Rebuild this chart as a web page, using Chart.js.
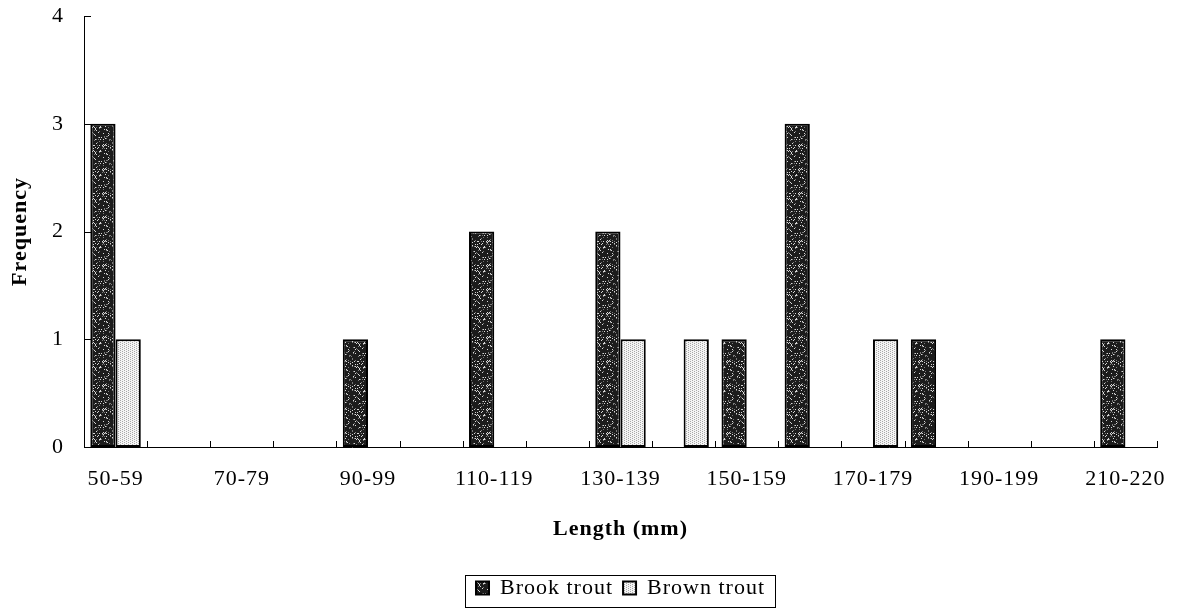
<!DOCTYPE html>
<html>
<head>
<meta charset="utf-8">
<script src="https://cdn.jsdelivr.net/npm/chart.js@4/dist/chart.umd.min.js"></script>
<style>
  html, body { margin: 0; padding: 0; background: #fff; }
  #wrap { width: 1179px; height: 615px; }
</style>
</head>
<body>
<div id="wrap"><canvas id="chart" width="1179" height="615"></canvas></div>
<script>
// Length classes (mm)
const lengthClasses = ["50-59", "60-69", "70-79", "80-89", "90-99", "100-109", "110-119",
  "120-129", "130-139", "140-149", "150-159", "160-169", "170-179", "180-189",
  "190-199", "200-209", "210-220"];
const brookTrout = [3, 0, 0, 0, 1, 0, 2, 0, 2, 0, 1, 3, 0, 1, 0, 0, 1];
const brownTrout = [1, 0, 0, 0, 0, 0, 0, 0, 1, 1, 0, 0, 1, 0, 0, 0, 0];
const yTicks = [0, 1, 2, 3, 4];

const serif = "'Liberation Serif', 'Times New Roman', serif";

// speckled fills like the scanned print
function makePattern(dark) {
  const c = document.createElement("canvas");
  c.width = 24; c.height = 24;
  const g = c.getContext("2d");
  g.fillStyle = dark ? "#1c1c1c" : "#f4f4f4";
  g.fillRect(0, 0, 24, 24);
  for (let y = 0; y < 24; y++) {
    for (let x = 0; x < 24; x++) {
      const h = ((x * 73 + y * 151) ^ (x * y * 17 + 5)) % 11;
      if (dark) {
        if (h === 0 || h === 4) { g.fillStyle = h === 0 ? "#d8d8d8" : "#7a7a7a"; g.fillRect(x, y, 1, 1); }
      } else {
        if (x % 2 === 0 && (y + (x % 4 === 0 ? 0 : 1)) % 2 === 0) { g.fillStyle = "#a8a8a8"; g.fillRect(x, y, 1, 1); }
      }
    }
  }
  return g.createPattern(c, "repeat");
}

// inner tick marks + legend frame
const decorPlugin = {
  id: "decor",
  beforeUpdate(chart) { chart.ctx.letterSpacing = "1px"; },
  beforeDraw(chart) { chart.ctx.letterSpacing = "1px"; },
  afterDraw(chart) {
    const ctx = chart.ctx;
    const x = chart.scales.x, y = chart.scales.y;
    const area = chart.chartArea;
    ctx.save();
    ctx.strokeStyle = "#000";
    ctx.lineWidth = 1;
    ctx.beginPath();
    yTicks.forEach(v => {
      const py = Math.round(y.getPixelForValue(v)) + 0.5;
      ctx.moveTo(area.left, py);
      ctx.lineTo(area.left + 7, py);
    });
    const n = lengthClasses.length;
    for (let i = 1; i <= n; i++) {
      let px;
      if (i === n) px = area.right;
      else px = (x.getPixelForValue(i - 1) + x.getPixelForValue(i)) / 2;
      px = Math.round(px) + 0.5;
      ctx.moveTo(px, area.bottom);
      ctx.lineTo(px, area.bottom - 6);
    }
    ctx.stroke();

    const hb = chart.legend.legendHitBoxes;
    if (hb && hb.length) {
      const first = hb[0], last = hb[hb.length - 1];
      const l = first.left - 11, r = last.left + last.width + 10;
      const t = first.top - 2, b = first.top + first.height + 8;
      ctx.strokeRect(Math.round(l) + 0.5, Math.round(t) + 0.5, Math.round(r - l), Math.round(b - t));
    }
    ctx.restore();
  }
};

const ctx = document.getElementById("chart").getContext("2d");

new Chart(ctx, {
  type: "bar",
  data: {
    labels: lengthClasses,
    datasets: [
      {
        label: "Brook trout",
        data: brookTrout,
        backgroundColor: makePattern(true),
        borderColor: "#000",
        borderWidth: 2,
        borderSkipped: false
      },
      {
        label: "Brown trout",
        data: brownTrout,
        backgroundColor: makePattern(false),
        borderColor: "#000",
        borderWidth: 2,
        borderSkipped: false
      }
    ]
  },
  options: {
    responsive: false,
    animation: false,
    devicePixelRatio: 1,
    layout: { padding: { left: 0, right: 22, top: 16, bottom: 6 } },
    datasets: { bar: { categoryPercentage: 0.8, barPercentage: 1.0 } },
    plugins: {
      tooltip: { enabled: false },
      legend: {
        position: "bottom",
        fullSize: false,
        labels: {
          color: "#000",
          font: { family: serif, size: 22 },
          boxWidth: 13,
          boxHeight: 13,
          padding: 10
        }
      }
    },
    scales: {
      x: {
        grid: { display: false, drawTicks: false },
        border: { display: true, color: "#000", width: 1 },
        ticks: {
          color: "#000",
          font: { family: serif, size: 22 },
          autoSkip: false,
          maxRotation: 0,
          padding: 19,
          callback: function (value, index) {
            return index % 2 === 0 ? this.getLabelForValue(value) : "";
          }
        },
        title: {
          display: true,
          text: "Length (mm)",
          color: "#000",
          font: { family: serif, size: 22, weight: "bold" },
          padding: { top: 0, bottom: 24 }
        },
        afterFit(scale) {
          scale.height = 120;
          scale.paddingLeft = 0;
          scale.paddingRight = 0;
        }
      },
      y: {
        min: 0,
        max: 4,
        grid: { display: false, drawTicks: false },
        border: { display: true, color: "#000", width: 1 },
        ticks: {
          color: "#000",
          font: { family: serif, size: 22 },
          stepSize: 1,
          padding: 20
        },
        title: {
          display: true,
          text: "Frequency",
          color: "#000",
          font: { family: serif, size: 22, weight: "bold" },
          padding: { top: 7, bottom: 0 }
        },
        afterFit(scale) {
          scale.width = 84;
          scale.paddingTop = 0;
          scale.paddingBottom = 0;
        }
      }
    }
  },
  plugins: [decorPlugin]
});
</script>
</body>
</html>
